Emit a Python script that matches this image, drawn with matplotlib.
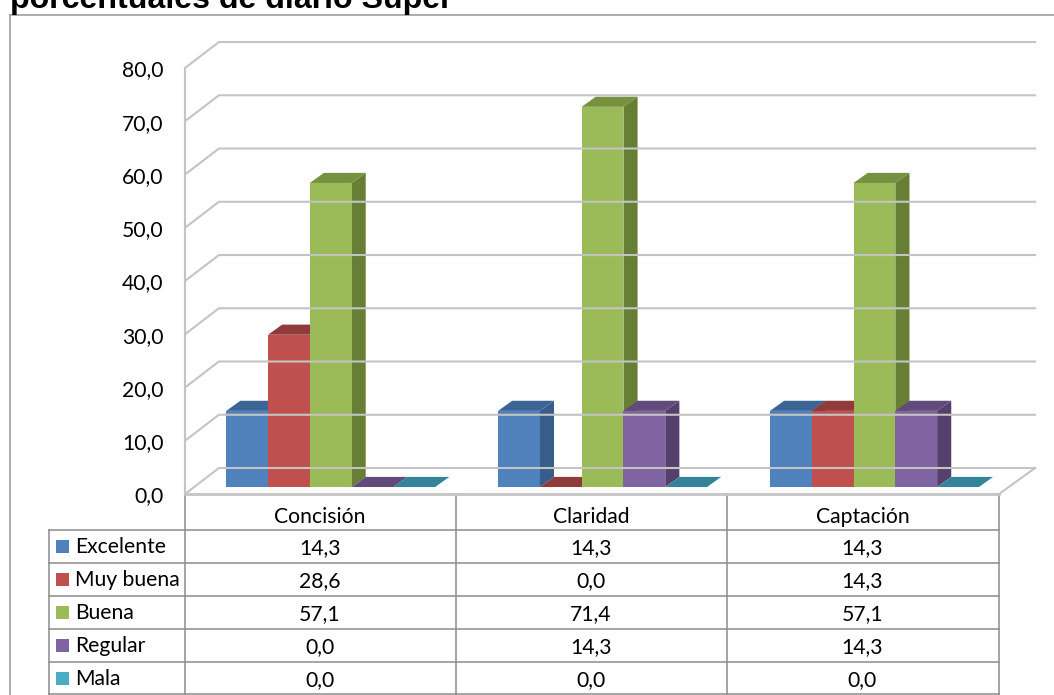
import matplotlib
matplotlib.use("Agg")
import matplotlib.pyplot as plt
from matplotlib.patches import Polygon, Rectangle

categories = ["Concisión", "Claridad", "Captación"]
series_names = ["Excelente", "Muy buena", "Buena", "Regular", "Mala"]
excelente = [14.3, 14.3, 14.3]
muy_buena = [28.6, 0.0, 14.3]
buena = [57.1, 71.4, 57.1]
regular = [0.0, 14.3, 14.3]
mala = [0.0, 0.0, 0.0]
series_values = [excelente, muy_buena, buena, regular, mala]
y_ticks = [0, 10, 20, 30, 40, 50, 60, 70, 80]

front_colors = ["#4F81BD", "#C0504D", "#9BBB59", "#8064A2", "#4BACC6"]
top_colors = ["#3C6494", "#8F3B39", "#76913F", "#604B7A", "#33839A"]
side_colors = ["#385D8A", "#7F3634", "#667F35", "#54406B", "#2F7487"]

W, H = 1054, 695
FONT = "Lato"
TXT = 15.2
GRID = "#C4C4C4"
TABLE_LINE = "#8C8C8C"


def fmt(v):
    return f"{v:.1f}".replace(".", ",")


fig = plt.figure(figsize=(W / 100, H / 100), dpi=100)

# capa de fondo w pikselach: ramka, tytul, tabela
page = fig.add_axes([0, 0, 1, 1])
page.set_xlim(0, W)
page.set_ylim(H, 0)
page.axis("off")

page.plot([10, 10], [H, 15], color="#A6A6A6", lw=1.3)
page.plot([10, W], [15, 15], color="#A6A6A6", lw=1.3)
page.text(10, 8, "porcentuales de diario Super", family="Liberation Sans",
          weight="bold", fontsize=23.1, va="baseline", ha="left", color="black")

# wykres: os x w kategoriach, os y w jednostkach wartosci
ax = fig.add_axes([185 / W, (H - 494) / H, (999 - 185) / W, (494 - 68) / H])
ax.set_xlim(0, len(categories))
ax.set_ylim(0, 80)
ax.axis("off")
ax.patch.set_alpha(0)

wall_dx = 0.125
wall_dy = 4.88
bar_w = 0.154
group_off = 0.152
group_step = 1.002
depth_x = 0.052
depth_y = 1.9
base_y = 1.31

# siatka i podloga
n = len(categories)
for t in y_ticks:
    ax.plot([0, wall_dx, n + 0.133], [t, t + wall_dy, t + wall_dy],
            color=GRID, lw=1.5, clip_on=False, solid_joinstyle="miter")
ax.plot([0, 0], [0, 80], color=GRID, lw=1.5, clip_on=False)
ax.plot([0, n], [0, 0], color=GRID, lw=2.0, clip_on=False)
ax.plot([n, n + 0.133], [0, wall_dy], color=GRID, lw=1.5, clip_on=False)

# slupki od lewej do prawej, zeby nastepny zaslanial bok poprzedniego
for c in range(n):
    for s, values in enumerate(series_values):
        v = values[c]
        x0 = c * group_step + group_off + s * bar_w
        x1 = x0 + bar_w
        top = base_y + v
        if v > 0:
            ax.add_patch(Polygon([(x1, base_y), (x1 + depth_x, base_y + depth_y),
                                  (x1 + depth_x, top + depth_y), (x1, top)],
                                 fc=side_colors[s], ec="none", clip_on=False))
            ax.add_patch(Rectangle((x0, base_y), bar_w, v, fc=front_colors[s],
                                   ec="none", clip_on=False))
        ax.add_patch(Polygon([(x0, top), (x1, top), (x1 + depth_x, top + depth_y),
                              (x0 + depth_x, top + depth_y)],
                             fc=top_colors[s], ec="none", clip_on=False))

for t in y_ticks:
    ax.annotate(fmt(t), (0, t), xytext=(-15.5, -6.1), textcoords="offset points",
                family=FONT, fontsize=TXT, ha="right", va="baseline",
                color="black", annotation_clip=False)

# tabela danych
col_x = [185, 456, 727, 999]
row_y = [530, 563, 596, 629, 662, 695]
left_x = 49
for y in row_y[:-1]:
    page.plot([left_x, 999], [y, y], color=TABLE_LINE, lw=1.1)
page.plot([left_x, left_x], [530, H], color=TABLE_LINE, lw=1.1)
for x in col_x:
    page.plot([x, x], [494, H], color=TABLE_LINE, lw=1.1)
page.plot([left_x, 999], [H - 1, H - 1], color=TABLE_LINE, lw=1.1)

for c, name in enumerate(categories):
    xc = (col_x[c] + col_x[c + 1]) / 2
    page.text(xc - 0.5, 523, name, family=FONT, fontsize=TXT, ha="center",
              va="baseline", color="black")
    for s, values in enumerate(series_values):
        page.text(xc - 0.5, row_y[s] + 24, fmt(values[c]), family=FONT, fontsize=TXT,
                  ha="center", va="baseline", color="black")

for s, name in enumerate(series_names):
    yc = (row_y[s] + row_y[s + 1]) / 2
    page.add_patch(Rectangle((56, yc - 6.5), 13, 13, fc=front_colors[s], ec="none"))
    page.text(75, row_y[s] + 23, name, family=FONT, fontsize=TXT, ha="left",
              va="baseline", color="black")

fig.savefig("out.png", dpi=100)
